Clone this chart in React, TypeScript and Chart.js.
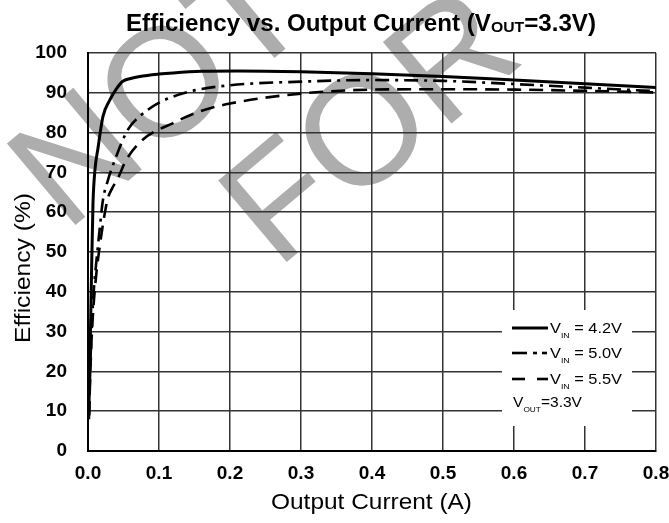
import React, { useEffect, useRef } from 'react';
import { Chart, registerables } from 'chart.js';

Chart.register(...registerables);

const FONT = "'Liberation Sans', Arial, Helvetica, sans-serif";

// ---- data ----
const seriesLabels = ['4.2V', '5.0V', '5.5V'];

const current42 = [0.001, 0.002, 0.003, 0.004, 0.005, 0.007, 0.010, 0.014, 0.021, 0.031, 0.040, 0.049, 0.060, 0.073, 0.100, 0.120, 0.160, 0.210, 0.300, 0.400, 0.500, 0.600, 0.700, 0.800];
const eff42 = [8, 17, 26, 35, 45, 62, 71, 76, 84, 88.3, 91, 92.9, 93.6, 94.1, 94.7, 95, 95.4, 95.5, 95.3, 94.8, 94.1, 93.2, 92.3, 91.3];

const current50 = [0.0015, 0.003, 0.005, 0.008, 0.012, 0.016, 0.021, 0.028, 0.038, 0.056, 0.073, 0.099, 0.143, 0.200, 0.300, 0.400, 0.500, 0.600, 0.700, 0.800];
const eff50 = [9, 20, 30, 40, 48, 55, 63, 68, 73.2, 80.7, 84.1, 87.4, 90.3, 91.9, 92.8, 93.2, 93.0, 92.2, 91.3, 90.4];

const current55 = [0.0015, 0.003, 0.005, 0.008, 0.012, 0.017, 0.022, 0.028, 0.034, 0.042, 0.054, 0.077, 0.120, 0.157, 0.200, 0.300, 0.400, 0.500, 0.600, 0.700, 0.800];
const eff55 = [9, 18, 28, 37, 45, 52, 58, 63.5, 66, 68.5, 73.2, 78.2, 82.4, 85.3, 87.3, 89.8, 90.8, 90.9, 90.8, 90.5, 90.1];

const xMin = 0, xMax = 0.8, xStep = 0.1;
const yMin = 0, yMax = 100, yStep = 10;

const titleText = ['Efficiency vs. Output Current (V', 'OUT', '=3.3V)'];
const xTitle = 'Output Current (A)';
const yTitle = 'Efficiency (%)';
const watermarkWords = ['NOT', 'FOR'];

type Part = { text: string; font: string; dy?: number };

function partsWidth(ctx: CanvasRenderingContext2D, parts: Part[]) {
  let w = 0;
  for (const p of parts) {
    ctx.font = p.font;
    w += ctx.measureText(p.text).width;
  }
  return w;
}

// draw rich text: x,y = anchor; align; targetWidth stretches along the text direction
function drawRich(ctx: CanvasRenderingContext2D, parts: Part[], x: number, y: number, align: 'left' | 'center', targetWidth: number, rot = 0) {
  const w = partsWidth(ctx, parts);
  const sx = targetWidth / w;
  ctx.save();
  ctx.translate(x, y);
  if (rot) ctx.rotate(rot);
  ctx.scale(sx, 1);
  ctx.textAlign = 'left';
  ctx.textBaseline = 'alphabetic';
  let cx = align === 'center' ? -w / 2 : 0;
  for (const p of parts) {
    ctx.font = p.font;
    ctx.fillText(p.text, cx, p.dy || 0);
    cx += ctx.measureText(p.text).width;
  }
  ctx.restore();
}

const watermarkPlugin = {
  id: 'watermark',
  beforeDraw(chart: any) {
    const ctx: CanvasRenderingContext2D = chart.ctx;
    const size = 155;
    const ang = -40 * Math.PI / 180;
    ctx.save();
    ctx.fillStyle = '#adadad';
    ctx.font = `${size}px ${FONT}`;
    ctx.textAlign = 'left';
    ctx.textBaseline = 'alphabetic';
    const anchors = [
      { cx: 162, cy: 80, oCenter: 1.111 },
      { cx: 360, cy: 128, oCenter: 1.0 },
    ];
    watermarkWords.forEach((wd, i) => {
      const a = anchors[i];
      ctx.save();
      ctx.translate(a.cx, a.cy);
      ctx.rotate(ang);
      ctx.fillText(wd, -a.oCenter * size, 0.358 * size);
      ctx.restore();
    });
    ctx.restore();
  },
};

const annotationsPlugin = {
  id: 'annotations',
  afterDraw(chart: any) {
    const ctx: CanvasRenderingContext2D = chart.ctx;
    ctx.save();
    ctx.fillStyle = '#000';
    // title
    drawRich(ctx, [
      { text: titleText[0], font: `bold 23px ${FONT}` },
      { text: titleText[1], font: `bold 15px ${FONT}`, dy: 1 },
      { text: titleText[2], font: `bold 23px ${FONT}` },
    ], 361, 31, 'center', 470);
    // x title
    drawRich(ctx, [{ text: xTitle, font: `22px ${FONT}` }], 371.5, 509, 'center', 201);
    // y title
    drawRich(ctx, [{ text: yTitle, font: `22px ${FONT}` }], 30, 268, 'center', 150, -Math.PI / 2);

    // legend box
    ctx.fillStyle = '#fff';
    ctx.fillRect(502, 310, 130, 116);
    ctx.strokeStyle = '#000';
    ctx.lineCap = 'butt';
    const rowsY = [328, 353, 379];
    const segs: number[][][] = [
      [[512, 548]],
      [[512, 527], [533, 537], [542, 547]],
      [[512, 525], [537, 548]],
    ];
    rowsY.forEach((yy, i) => {
      ctx.lineWidth = i === 0 ? 3 : 2.6;
      for (const s of segs[i]) {
        ctx.beginPath();
        ctx.moveTo(s[0], yy);
        ctx.lineTo(s[1], yy);
        ctx.stroke();
      }
    });
    ctx.fillStyle = '#000';
    rowsY.forEach((yy, i) => {
      drawRich(ctx, [
        { text: 'V', font: `15px ${FONT}` },
        { text: 'IN', font: `8px ${FONT}`, dy: 4.5 },
        { text: ' = ' + seriesLabels[i], font: `15px ${FONT}` },
      ], 550, yy + 5, 'left', 72);
    });
    drawRich(ctx, [
      { text: 'V', font: `15px ${FONT}` },
      { text: 'OUT', font: `8px ${FONT}`, dy: 5 },
      { text: '=3.3V', font: `15px ${FONT}` },
    ], 513, 407, 'left', 69);
    ctx.restore();
  },
};

export default function App() {
  const ref = useRef<HTMLCanvasElement>(null);
  useEffect(() => {
    document.body.style.margin = '0';
    const mk = (xs: number[], ys: number[]) => xs.map((x, i) => ({ x, y: ys[i] }));
    const chart = new Chart(ref.current!, {
      type: 'line',
      data: {
        datasets: [
          { label: 'VIN = ' + seriesLabels[0], data: mk(current42, eff42), borderColor: '#000', borderWidth: 3, pointRadius: 0, cubicInterpolationMode: 'monotone', fill: false },
          { label: 'VIN = ' + seriesLabels[1], data: mk(current50, eff50), borderColor: '#000', borderWidth: 2.6, borderDash: [14, 6, 3, 6], pointRadius: 0, cubicInterpolationMode: 'monotone', fill: false },
          { label: 'VIN = ' + seriesLabels[2], data: mk(current55, eff55), borderColor: '#000', borderWidth: 2.6, borderDash: [14, 8], pointRadius: 0, cubicInterpolationMode: 'monotone', fill: false },
        ],
      } as any,
      options: {
        animation: false,
        responsive: true,
        maintainAspectRatio: false,
        layout: { padding: { top: 53, right: 13, left: 0, bottom: 0 } },
        plugins: { legend: { display: false }, title: { display: false }, tooltip: { enabled: false } },
        scales: {
          x: {
            type: 'linear',
            min: xMin, max: xMax,
            ticks: { stepSize: xStep, color: '#000', padding: 11, font: { family: FONT, size: 19, weight: 'bold' }, callback: (v: any) => Number(v).toFixed(1), maxRotation: 0, autoSkip: false },
            grid: { color: '#333', lineWidth: 1.5, drawTicks: false },
            border: { display: true, color: '#000', width: 2 },
            afterFit: (s: any) => { s.height = 72; s.paddingLeft = 0; s.paddingRight = 0; },
          },
          y: {
            type: 'linear',
            min: yMin, max: yMax,
            ticks: { stepSize: yStep, color: '#000', padding: 21, font: { family: FONT, size: 19, weight: 'bold' } },
            grid: { color: '#333', lineWidth: 1.5, drawTicks: false },
            border: { display: true, color: '#000', width: 2 },
            afterFit: (s: any) => { s.width = 88; s.paddingTop = 0; s.paddingBottom = 0; },
          },
        },
      } as any,
      plugins: [watermarkPlugin, annotationsPlugin],
    });
    return () => chart.destroy();
  }, []);
  return (
    <div style={{ width: 669, height: 523, position: 'relative' }}>
      <canvas ref={ref} />
    </div>
  );
}
